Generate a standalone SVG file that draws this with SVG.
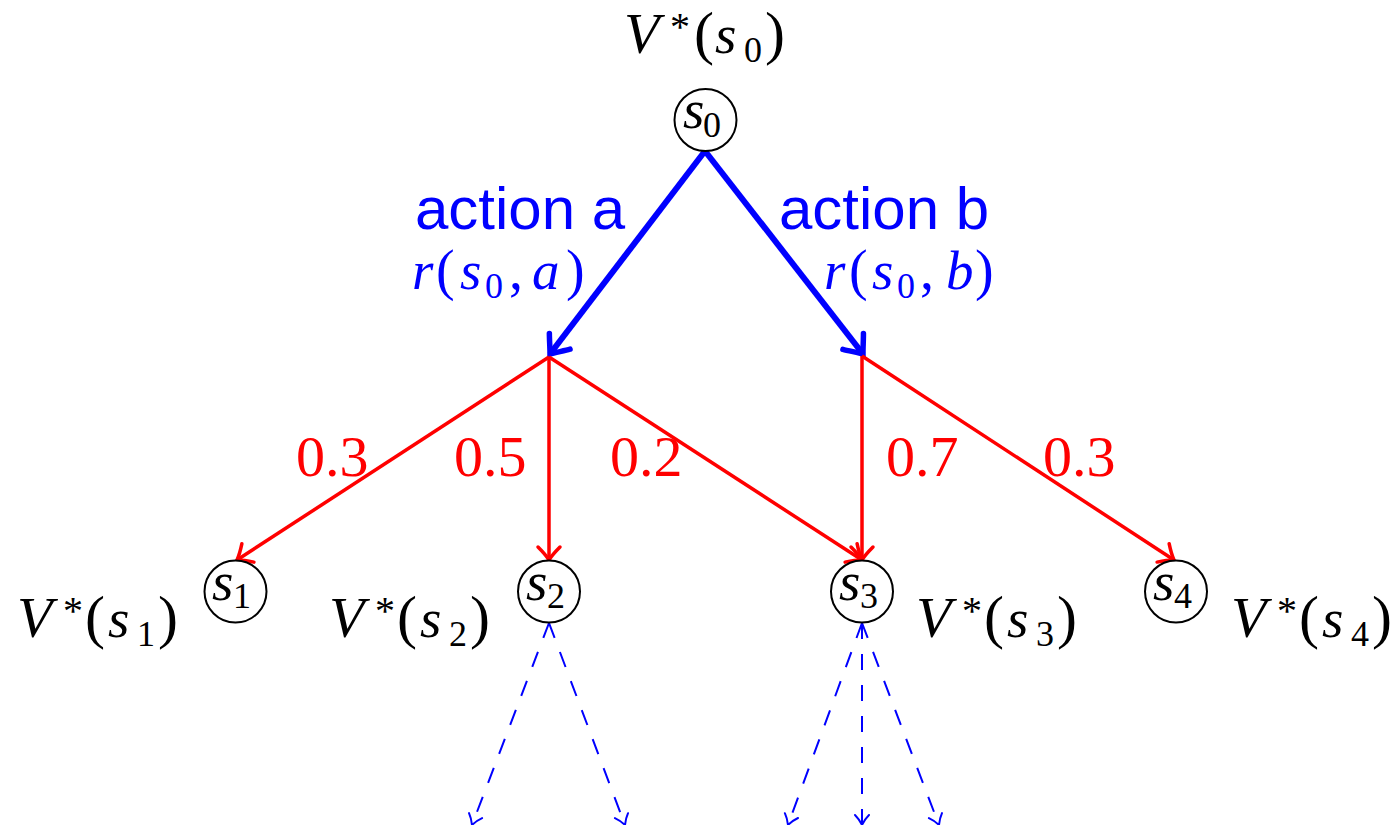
<svg xmlns="http://www.w3.org/2000/svg" width="1393" height="825" viewBox="0 0 1393 825">
<style>
.m{font-style:italic;font-size:55px}
.v{font-style:italic;font-size:58px}
.sub{font-size:36px}
.p{font-size:60px}
.pr{font-size:56px}
.st{font-size:40px}
.blk{fill:#000}
.blu{fill:#0000ff}
.red{font-size:58px;fill:#ff0000}
.act{font-family:"Liberation Sans",sans-serif;font-size:60px;fill:#0000ff}
.node circle{fill:#fff;stroke:#000;stroke-width:2}
.thick{stroke:#0000ff;stroke-width:6;fill:none;marker-end:url(#ab)}
.prob{stroke:#ff0000;stroke-width:3.5;fill:none;marker-end:url(#ar)}
.dash{stroke:#0000ff;stroke-width:2;fill:none;stroke-dasharray:16 15;marker-end:url(#ad)}
</style>
<defs>
<marker id="ab" markerUnits="userSpaceOnUse" orient="auto" refX="0" refY="0" markerWidth="40" markerHeight="40" overflow="visible">
<path d="M -16,-13 C -12,-10 -4,-3 0,0 C -4,3 -12,10 -16,13" fill="none" stroke="#0000ff" stroke-width="5.5" stroke-linecap="round" stroke-dasharray="none"/>
</marker>
<marker id="ar" markerUnits="userSpaceOnUse" orient="auto" refX="0" refY="0" markerWidth="40" markerHeight="40" overflow="visible">
<path d="M -13,-11 C -10,-8 -4,-2.5 0,0 C -4,2.5 -10,8 -13,11" fill="none" stroke="#ff0000" stroke-width="3.5" stroke-linecap="round" stroke-dasharray="none"/>
</marker>
<marker id="ad" markerUnits="userSpaceOnUse" orient="auto" refX="0" refY="0" markerWidth="40" markerHeight="40" overflow="visible">
<path d="M -10,-7 C -8,-5 -3,-1.5 0,0 C -3,1.5 -8,5 -10,7" fill="none" stroke="#0000ff" stroke-width="2" stroke-linecap="round" stroke-dasharray="none"/>
</marker>
</defs>

<g id="connectors">
<line class="thick" x1="705" y1="151" x2="550" y2="354"/>
<line class="thick" x1="705" y1="151" x2="863" y2="354"/>
<line class="prob" x1="549" y1="357" x2="237" y2="560"/>
<line class="prob" x1="549" y1="357" x2="549" y2="560"/>
<line class="prob" x1="549" y1="357" x2="862" y2="560"/>
<line class="prob" x1="862" y1="356" x2="862" y2="560"/>
<line class="prob" x1="862" y1="356" x2="1174" y2="560"/>
<line class="dash" x1="549" y1="623" x2="472" y2="825"/>
<line class="dash" x1="549" y1="623" x2="625" y2="825"/>
<line class="dash" x1="862" y1="623" x2="788" y2="825"/>
<line class="dash" x1="862" y1="623" x2="862" y2="825"/>
<line class="dash" x1="862" y1="623" x2="939" y2="825"/>
</g>

<g id="label-a" font-family="Liberation Serif, serif">
<text class="act" x="415" y="229">action a</text>
<text class="m blu" x="412" y="289">r</text>
<text class="pr blu" x="436" y="289">(</text>
<text class="m blu" x="460" y="289">s</text>
<text class="sub blu" x="485" y="298">0</text>
<text class="pr blu" x="509" y="289">,</text>
<text class="m blu" x="532" y="289">a</text>
<text class="pr blu" x="566" y="289">)</text>
</g>
<g id="label-b" font-family="Liberation Serif, serif">
<text class="act" x="779" y="229">action b</text>
<text class="m blu" x="824" y="289">r</text>
<text class="pr blu" x="849" y="289">(</text>
<text class="m blu" x="872" y="289">s</text>
<text class="sub blu" x="897" y="298">0</text>
<text class="pr blu" x="920" y="289">,</text>
<text class="m blu" x="946" y="289">b</text>
<text class="pr blu" x="975" y="289">)</text>
</g>
<g id="probabilities" font-family="Liberation Serif, serif">
<text class="red" x="296" y="476">0.3</text>
<text class="red" x="454" y="476">0.5</text>
<text class="red" x="610" y="476">0.2</text>
<text class="red" x="886" y="476">0.7</text>
<text class="red" x="1043" y="476">0.3</text>
</g>

<g id="n0" class="node" font-family="Liberation Serif, serif">
<circle cx="705.5" cy="120" r="31"/>
<text class="m blk" x="683" y="128">s</text>
<text class="sub blk" x="703" y="137">0</text>
</g>
<g id="n1" class="node" font-family="Liberation Serif, serif">
<circle cx="235.5" cy="591.5" r="31"/>
<text class="m blk" x="212" y="600">s</text>
<text class="sub blk" x="233" y="608">1</text>
</g>
<g id="n2" class="node" font-family="Liberation Serif, serif">
<circle cx="549" cy="591.5" r="31"/>
<text class="m blk" x="526" y="600">s</text>
<text class="sub blk" x="547" y="608">2</text>
</g>
<g id="n3" class="node" font-family="Liberation Serif, serif">
<circle cx="862" cy="591.5" r="31"/>
<text class="m blk" x="839" y="600">s</text>
<text class="sub blk" x="860" y="608">3</text>
</g>
<g id="n4" class="node" font-family="Liberation Serif, serif">
<circle cx="1176" cy="591.5" r="31"/>
<text class="m blk" x="1153" y="600">s</text>
<text class="sub blk" x="1174" y="608">4</text>
</g>

<g id="v0" class="blk" font-family="Liberation Serif, serif">
<text class="v" x="624" y="53">V</text>
<text class="st" x="670" y="40">*</text>
<text class="p" x="694" y="53">(</text>
<text class="m" x="715" y="53">s</text>
<text class="sub" x="744" y="62">0</text>
<text class="p" x="765" y="53">)</text>
</g>
<g id="v1" class="blk" font-family="Liberation Serif, serif">
<text class="v" x="17" y="637">V</text>
<text class="st" x="63" y="624">*</text>
<text class="p" x="85" y="637">(</text>
<text class="m" x="108" y="637">s</text>
<text class="sub" x="137" y="646">1</text>
<text class="p" x="158" y="637">)</text>
</g>
<g id="v2" class="blk" font-family="Liberation Serif, serif">
<text class="v" x="329" y="637">V</text>
<text class="st" x="375" y="624">*</text>
<text class="p" x="397" y="637">(</text>
<text class="m" x="420" y="637">s</text>
<text class="sub" x="449" y="646">2</text>
<text class="p" x="470" y="637">)</text>
</g>
<g id="v3" class="blk" font-family="Liberation Serif, serif">
<text class="v" x="916" y="637">V</text>
<text class="st" x="962" y="624">*</text>
<text class="p" x="984" y="637">(</text>
<text class="m" x="1007" y="637">s</text>
<text class="sub" x="1036" y="646">3</text>
<text class="p" x="1057" y="637">)</text>
</g>
<g id="v4" class="blk" font-family="Liberation Serif, serif">
<text class="v" x="1231" y="637">V</text>
<text class="st" x="1277" y="624">*</text>
<text class="p" x="1299" y="637">(</text>
<text class="m" x="1322" y="637">s</text>
<text class="sub" x="1351" y="646">4</text>
<text class="p" x="1372" y="637">)</text>
</g>
</svg>
